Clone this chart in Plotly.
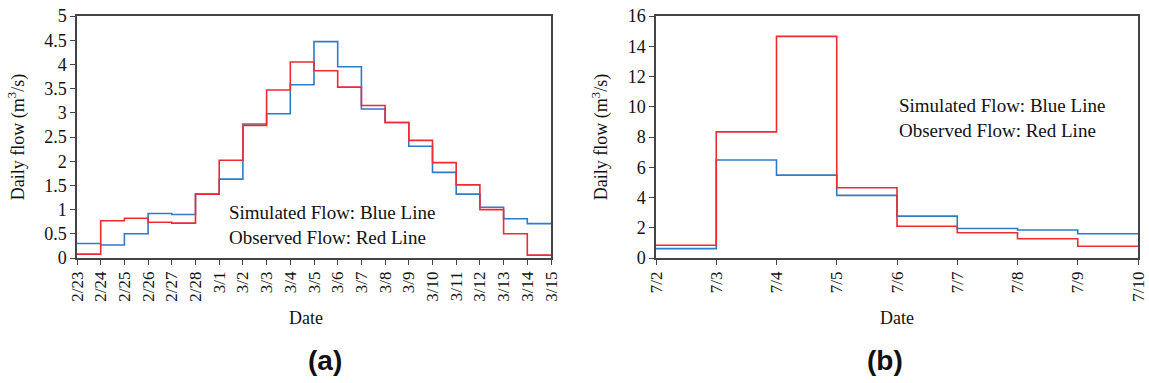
import plotly.graph_objects as go

# ---- Data ----
dates_a = ["2/23", "2/24", "2/25", "2/26", "2/27", "2/28", "3/1", "3/2", "3/3", "3/4", "3/5",
           "3/6", "3/7", "3/8", "3/9", "3/10", "3/11", "3/12", "3/13", "3/14", "3/15"]
sim_a = [0.30, 0.27, 0.50, 0.92, 0.90, 1.32, 1.63, 2.77, 2.98, 3.58, 4.47,
         3.95, 3.08, 2.80, 2.31, 1.77, 1.32, 1.05, 0.81, 0.71]
obs_a = [0.08, 0.77, 0.82, 0.74, 0.72, 1.32, 2.02, 2.74, 3.47, 4.05, 3.87,
         3.53, 3.15, 2.80, 2.43, 1.97, 1.51, 1.00, 0.50, 0.06]

dates_b = ["7/2", "7/3", "7/4", "7/5", "7/6", "7/7", "7/8", "7/9", "7/10"]
sim_b = [0.62, 6.48, 5.48, 4.14, 2.77, 1.95, 1.85, 1.60]
obs_b = [0.84, 8.34, 14.65, 4.64, 2.10, 1.67, 1.27, 0.78]

yticks_a = [0, 0.5, 1, 1.5, 2, 2.5, 3, 3.5, 4, 4.5, 5]
yticks_b = [0, 2, 4, 6, 8, 10, 12, 14, 16]

BLUE = "#2f7bc8"
RED = "#ee2a35"
FONT = "Liberation Serif"

W, H = 1149, 383
ML, MR, MT, MB = 77, 11, 16, 125
PW = W - ML - MR
PH = H - MT - MB


def px_x(x):
    return (x - ML) / PW


def px_y(y):
    return (H - MB - y) / PH


fig = go.Figure()


def add_steps(vals, xaxis, yaxis, color):
    xs = list(range(len(vals) + 1))
    ys = list(vals) + [vals[-1]]
    fig.add_trace(go.Scatter(x=xs, y=ys, mode="lines", line=dict(shape="hv", color=color, width=1.6),
                             xaxis=xaxis, yaxis=yaxis, showlegend=False, hoverinfo="skip",
                             cliponaxis=False))


add_steps(sim_a, "x", "y", BLUE)
add_steps(obs_a, "x", "y", RED)
add_steps(sim_b, "x2", "y2", BLUE)
add_steps(obs_b, "x2", "y2", RED)

axis_common = dict(showline=True, linecolor="#444", linewidth=1.5, mirror=True, ticks="outside",
                   ticklen=5, tickcolor="#444", tickwidth=1, showgrid=False, zeroline=False,
                   automargin=False)
xfont = dict(family=FONT, size=17, color="#111")
yfont = dict(family=FONT, size=18, color="#111")
tfont = dict(family=FONT, size=18, color="#111")

fig.update_layout(
    width=W, height=H,
    margin=dict(l=ML, r=MR, t=MT, b=MB),
    plot_bgcolor="white", paper_bgcolor="white",
    font=dict(family=FONT, color="#111"),
    xaxis=dict(domain=[0, px_x(551)], range=[0, len(dates_a) - 1],
               tickvals=list(range(len(dates_a))), ticktext=dates_a, tickangle=-90, tickfont=xfont,
               **axis_common),
    yaxis=dict(range=[0, 5], tickvals=yticks_a, ticktext=[f"{v:g}" for v in yticks_a], tickfont=yfont,
               title=dict(text="Daily flow (m<sup>3</sup>/s)", font=tfont), **axis_common),
    xaxis2=dict(domain=[px_x(656), 1.0], range=[0, len(dates_b) - 1], anchor="y2",
                tickvals=list(range(len(dates_b))), ticktext=dates_b, tickangle=-90, tickfont=xfont,
                **axis_common),
    yaxis2=dict(range=[0, 16], anchor="x2", tickvals=yticks_b, ticktext=[str(v) for v in yticks_b],
                tickfont=yfont,
                title=dict(text="Daily flow (m<sup>3</sup>/s)", font=tfont), **axis_common),
)

# x-axis titles
for cx in (306, 897):
    fig.add_annotation(xref="paper", yref="paper", x=px_x(cx), y=px_y(318), text="Date",
                       showarrow=False, xanchor="center", yanchor="middle",
                       font=dict(family=FONT, size=18, color="#111"))

ann_font = dict(family=FONT, size=19, color="#111")
fig.add_annotation(xref="x", yref="y", x=6.33, y=0.93, text="Simulated Flow: Blue Line",
                   showarrow=False, xanchor="left", yanchor="middle", font=ann_font)
fig.add_annotation(xref="x", yref="y", x=6.33, y=0.43, text="Observed Flow: Red Line",
                   showarrow=False, xanchor="left", yanchor="middle", font=ann_font)
fig.add_annotation(xref="x2", yref="y2", x=4.0, y=10.05, text="Simulated Flow: Blue Line",
                   showarrow=False, xanchor="left", yanchor="middle", font=ann_font)
fig.add_annotation(xref="x2", yref="y2", x=4.0, y=8.4, text="Observed Flow: Red Line",
                   showarrow=False, xanchor="left", yanchor="middle", font=ann_font)

fig.add_annotation(xref="paper", yref="paper", x=px_x(306), y=px_y(360), yanchor="middle",
                   text="<b>(a)</b>", showarrow=False, font=dict(family="Liberation Sans", size=28, color="#111"))
fig.add_annotation(xref="paper", yref="paper", x=px_x(905), y=px_y(360), yanchor="middle",
                   text="<b>(b)</b>", showarrow=False, font=dict(family="Liberation Sans", size=28, color="#111"))

fig.write_html("out.html", config={"displayModeBar": False},
               post_script="document.body.style.margin='0';document.body.style.overflow='hidden';")
